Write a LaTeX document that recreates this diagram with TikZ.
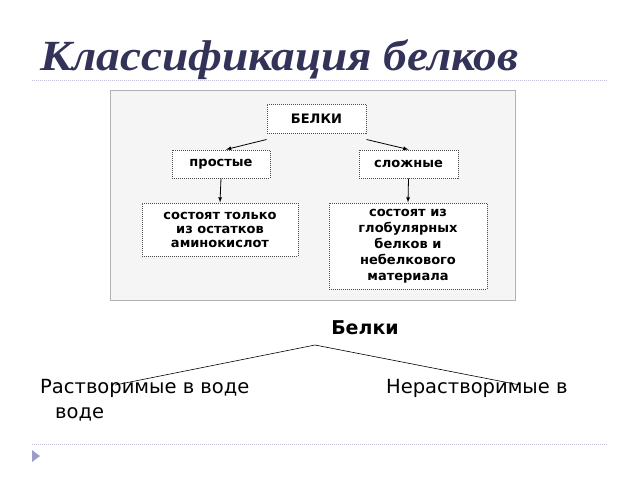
\documentclass[tikz,border=0pt]{standalone}
\usepackage{fontspec}
\setmainfont{DejaVu Sans}
\newfontfamily\titlef{Liberation Serif}
\begin{document}
\begin{tikzpicture}[x=1pt,y=-1pt,
  bx/.style={draw=black!70,densely dotted,line width=1pt,fill=white,align=center,font=\bfseries\fontsize{13}{14}\selectfont,inner sep=2pt},
  ar/.style={-latex,line width=0.8pt},
  sep/.style={draw=blue!25!gray!40,densely dotted,line width=1pt}]
\useasboundingbox (0,0) rectangle (640,480);
\node[anchor=base west,font=\titlef\bfseries\itshape\fontsize{43}{46}\selectfont,text=black!75!blue!60!gray,xscale=1.1,inner sep=0pt] (title) at (40,70) {Классификация белков};
\draw[sep] (32,80) -- (608,80);
\draw[sep] (32,444) -- (608,444);
\fill[blue!30!gray!60] (32,450) -- (40,456) -- (32,462) -- cycle;
\node[draw=gray!60,line width=1.2pt,fill=gray!8,minimum width=405pt,minimum height=210pt,anchor=north west] (img) at (110,90) {};
\node[bx,minimum width=99pt,minimum height=29pt] (b) at (316.5,118.5) {БЕЛКИ};
\node[bx,minimum width=98pt,minimum height=28pt] (p) at (221,164) {простые};
\node[bx,minimum width=99pt,minimum height=28pt] (s) at (408.5,164) {сложные};
\node[bx,minimum width=156pt,minimum height=53pt] (pp) at (220,229.5) {состоят только\\из остатков\\аминокислот};
\node[bx,minimum width=158pt,minimum height=86pt,font=\bfseries\fontsize{13}{16}\selectfont] (ss) at (408,246) {состоят из\\глобулярных\\белков и\\небелкового\\материала};
\draw[ar] ([yshift=-6pt]b.south west) -- ([xshift=5pt]p.north);
\draw[ar] ([yshift=-6pt]b.south east) -- ([xshift=0pt]s.north);
\draw[ar] (p.south) -- (pp.north);
\draw[ar] (s.south) -- (ss.north);
\node[anchor=base,font=\bfseries\fontsize{19}{22}\selectfont] (bel) at (365,334) {Белки};
\coordinate (top) at (315,345);
\node[anchor=base west,font=\fontsize{19.5}{22}\selectfont,inner sep=0pt] (r) at (40,393) {Растворимые в воде};
\node[anchor=base west,font=\fontsize{19.5}{22}\selectfont,inner sep=0pt] (r2) at (55,418) {воде};
\node[anchor=base west,font=\fontsize{19.5}{22}\selectfont,inner sep=0pt] (n) at (386,393) {Нерастворимые в};
\draw[line width=0.6pt] (115,385) -- (top) -- (520,385);
\end{tikzpicture}
\end{document}
